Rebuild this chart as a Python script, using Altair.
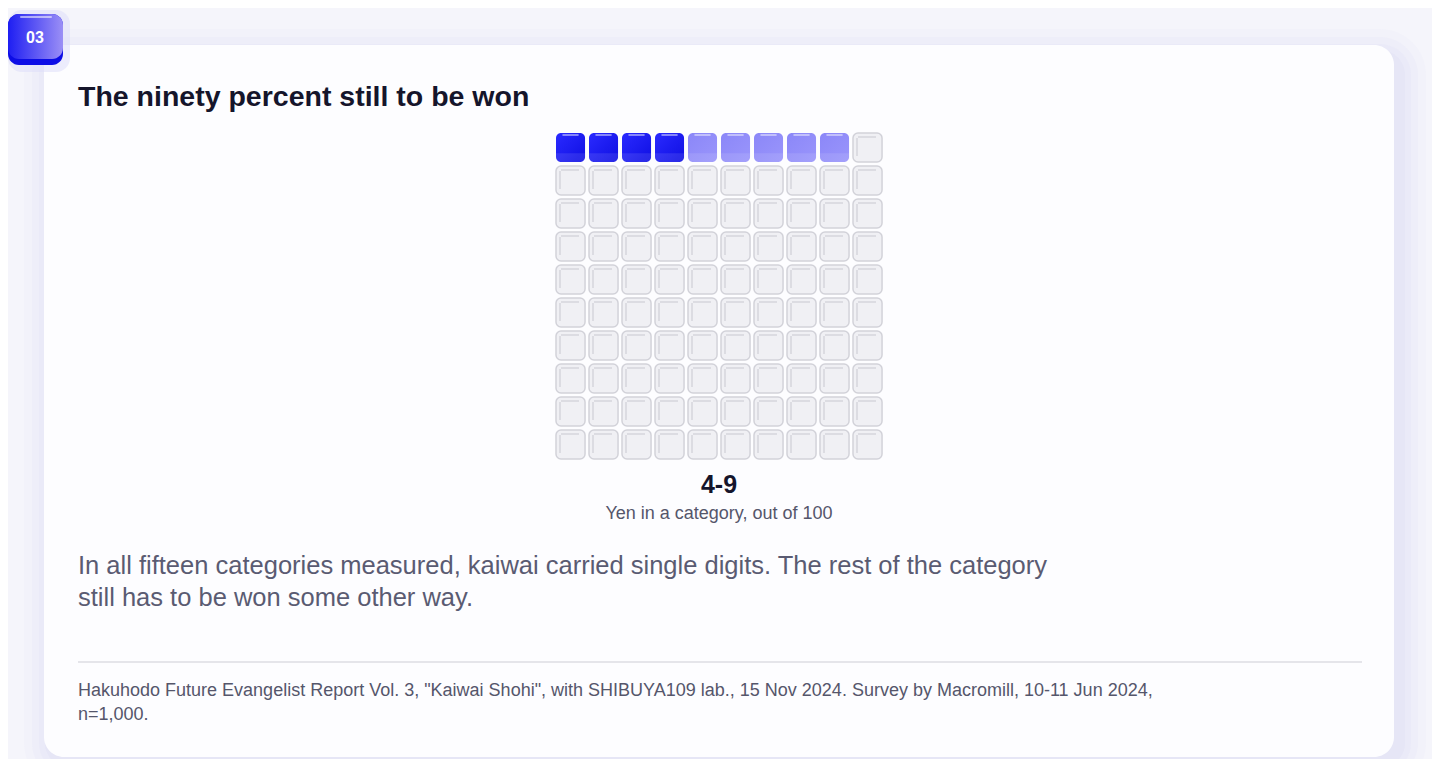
import altair as alt
import pandas as pd

# ---------------- data ----------------
badge_text = "03"
title_text = "The ninety percent still to be won"
range_low = 4          # cells certainly won
range_high = 9         # upper end of the range
total_cells = 100
grid_cols = 10
categories = ["Low end", "Up to high end", "Rest of category"]
value_label = "4-9"
unit_label = "Yen in a category, out of 100"
body_lines = [
    "In all fifteen categories measured, kaiwai carried single digits. The rest of the category",
    "still has to be won some other way.",
]
source_lines = [
    'Hakuhodo Future Evangelist Report Vol. 3, "Kaiwai Shohi", with SHIBUYA109 lab., 15 Nov 2024. Survey by Macromill, 10-11 Jun 2024,',
    "n=1,000.",
]

# ---------------- build cell table ----------------
CELL = 0.88  # share of a grid step covered by a cell
rows = []
for i in range(total_cells):
    col = i % grid_cols
    row = i // grid_cols
    if i < range_low:
        cat = categories[0]
    elif i < range_high:
        cat = categories[1]
    else:
        cat = categories[2]
    rows.append({"i": i, "col": col, "row": row, "cat": cat,
                 "c0": col, "c1": col + CELL, "r0": row, "r1": row + CELL,
                 "rb": row + CELL * 0.7})
cells = pd.DataFrame(rows)

FONT = "Liberation Sans"
one = alt.Data(values=[{"k": 0}])

xs = alt.Scale(domain=[0, grid_cols], range=[548, 878])
ys = alt.Scale(domain=[0, grid_cols], range=[125, 455])
X = alt.X("c0:Q", scale=xs, axis=None)
X2 = alt.X2("c1")
Y = alt.Y("r0:Q", scale=ys, axis=None)
Y2 = alt.Y2("r1")

base = alt.Chart(cells)

layers = []

# ---- card shadow (soft glow) ----
for grow, op in [(26, 0.05), (18, 0.07), (11, 0.09), (5, 0.1)]:
    layers.append(
        alt.Chart(one).mark_rect(cornerRadius=20 + grow, color="#c4c4f0", opacity=op).encode(
            x=alt.value(36 - grow + 6), x2=alt.value(1386 + grow + 6),
            y=alt.value(37 - grow + 10), y2=alt.value(749 + grow + 6),
        )
    )
# ---- card ----
layers.append(
    alt.Chart(one).mark_rect(cornerRadius=20, color="#fdfdff").encode(
        x=alt.value(36), x2=alt.value(1386), y=alt.value(37), y2=alt.value(749)
    )
)

# ---- badge ----
layers.append(
    alt.Chart(one).mark_rect(cornerRadius=14, color="#dcdcfa", opacity=0.5).encode(
        x=alt.value(0), x2=alt.value(62), y=alt.value(2), y2=alt.value(64)
    )
)
layers.append(
    alt.Chart(one).mark_rect(cornerRadius=11, color="#0c0ce6").encode(
        x=alt.value(0), x2=alt.value(55), y=alt.value(6), y2=alt.value(57)
    )
)
layers.append(
    alt.Chart(one).mark_rect(
        cornerRadius=11,
        color=alt.LinearGradient(
            gradient="linear", x1=0, x2=1, y1=0, y2=0,
            stops=[alt.GradientStop(color="#1e1ef2", offset=0),
                   alt.GradientStop(color="#9b8ff6", offset=1)],
        ),
    ).encode(x=alt.value(0), x2=alt.value(55), y=alt.value(6), y2=alt.value(51))
)
layers.append(
    alt.Chart(one).mark_rule(color="#ffffff", opacity=0.55, strokeWidth=2, strokeCap="round").encode(
        x=alt.value(13), x2=alt.value(43), y=alt.value(9)
    )
)
layers.append(
    alt.Chart(one).mark_text(font=FONT, fontSize=16, fontWeight="bold", color="#ffffff",
                             align="center", baseline="middle").encode(
        x=alt.value(27), y=alt.value(30), text=alt.value(badge_text)
    )
)

# ---- title ----
layers.append(
    alt.Chart(one).mark_text(font=FONT, fontSize=28.5, fontWeight="bold", color="#15152b",
                             align="left", baseline="alphabetic").encode(
        x=alt.value(70), y=alt.value(98), text=alt.value(title_text)
    )
)

# ---- waffle: empty cells ----
empty = base.transform_filter(alt.datum.cat == categories[2])
layers.append(
    empty.mark_rect(cornerRadius=5, color="#f0f0f4", stroke="#d2d2d9", strokeWidth=1.5).encode(
        x=X, x2=X2, y=Y, y2=Y2
    )
)
layers.append(
    empty.mark_rule(color="#d6d6dd", strokeWidth=1.5, xOffset=4, yOffset=5, y2Offset=-6).encode(
        x=X, y=Y, y2=Y2
    )
)
layers.append(
    empty.mark_rule(color="#d6d6dd", strokeWidth=1.5, xOffset=5, x2Offset=-6, yOffset=4).encode(
        x=X, x2=X2, y=Y
    )
)

# ---- waffle: filled cells ----
fills = {
    categories[0]: ("#2a2aff", "#0f0fe2"),
    categories[1]: ("#8b87f8", "#9a95fb"),
}
for cat, (c_top, c_bot) in fills.items():
    sub = base.transform_filter(alt.datum.cat == cat)
    layers.append(
        sub.mark_rect(
            cornerRadius=5,
            color=alt.LinearGradient(
                gradient="linear", x1=0, x2=1, y1=0, y2=1,
                stops=[alt.GradientStop(color=c_top, offset=0),
                       alt.GradientStop(color=c_bot, offset=1)],
            ),
        ).encode(x=X, x2=X2, y=Y, y2=Y2)
    )
    layers.append(
        sub.mark_rect(cornerRadiusBottomLeft=5, cornerRadiusBottomRight=5,
                      color="#ffffff", opacity=0.1).encode(
            x=X, x2=X2, y=alt.Y("rb:Q", scale=ys, axis=None), y2=Y2
        )
    )
    layers.append(
        sub.mark_rule(color="#ffffff", opacity=0.6, strokeWidth=1.5, strokeCap="round",
                      xOffset=7, x2Offset=-7, yOffset=2).encode(x=X, x2=X2, y=Y)
    )

# ---- value label ----
layers.append(
    alt.Chart(one).mark_text(font=FONT, fontSize=25, fontWeight="bold", color="#15152b",
                             align="center", baseline="alphabetic").encode(
        x=alt.value(711), y=alt.value(485), text=alt.value(value_label)
    )
)
layers.append(
    alt.Chart(one).mark_text(font=FONT, fontSize=18, color="#55566b",
                             align="center", baseline="alphabetic").encode(
        x=alt.value(711), y=alt.value(511), text=alt.value(unit_label)
    )
)

# ---- body text ----
layers.append(
    alt.Chart(one).mark_text(font=FONT, fontSize=25.5, color="#5a5b72", lineHeight=32,
                             align="left", baseline="alphabetic").encode(
        x=alt.value(70), y=alt.value(566), text=alt.value(body_lines)
    )
)

# ---- divider ----
layers.append(
    alt.Chart(one).mark_rule(color="#dddde3", strokeWidth=1.5).encode(
        x=alt.value(70), x2=alt.value(1354), y=alt.value(654)
    )
)

# ---- source ----
layers.append(
    alt.Chart(one).mark_text(font=FONT, fontSize=18, color="#55566b", lineHeight=24,
                             align="left", baseline="alphabetic").encode(
        x=alt.value(70), y=alt.value(688), text=alt.value(source_lines)
    )
)

chart = alt.layer(*layers).properties(
    width=1424, height=751, padding=0,
    autosize=alt.AutoSizeParams(type="none"),
    background="#f5f5fb",
).configure_view(stroke=None)

chart.save("out.html", embed_options={"renderer": "svg", "actions": False})
